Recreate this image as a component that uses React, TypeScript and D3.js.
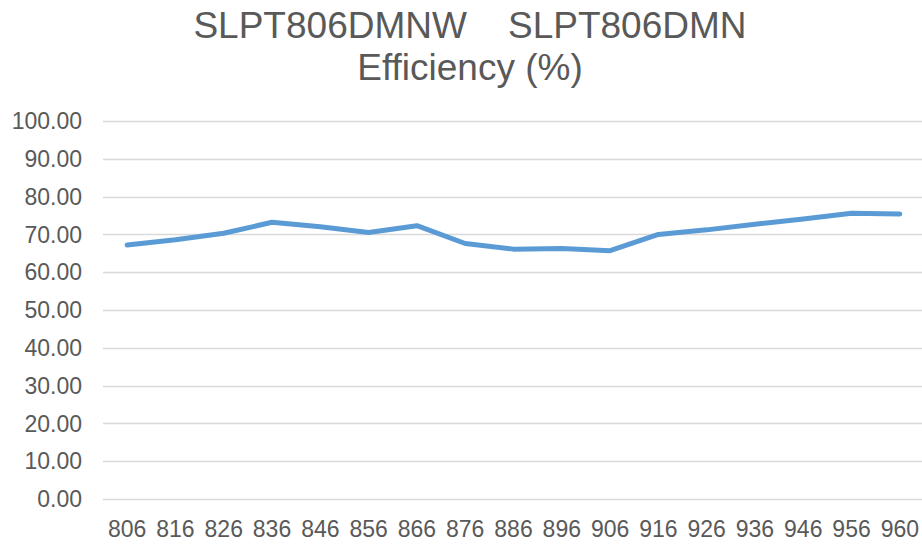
import * as d3 from 'd3';
import { useEffect, useRef } from 'react';

const categories = ['806', '816', '826', '836', '846', '856', '866', '876', '886', '896', '906', '916', '926', '936', '946', '956', '960'];
const efficiency = [67.2, 68.6, 70.3, 73.2, 72.0, 70.5, 72.3, 67.6, 66.1, 66.3, 65.7, 70.0, 71.2, 72.7, 74.1, 75.6, 75.4];
const yTicks = [0, 10, 20, 30, 40, 50, 60, 70, 80, 90, 100];
const titleLines = ['SLPT806DMNW\u00a0\u00a0\u00a0\u00a0SLPT806DMN', 'Efficiency (%)'];

const W = 922;
const H = 544;
const font = 'Arial, "Liberation Sans", sans-serif';
const textColor = '#595959';

const App = () => {
    const svgRef = useRef<SVGSVGElement>(null);

    useEffect(() => {
        const svg = d3.select(svgRef.current);
        svg.selectAll('*').remove();

        const left = 103, right = 924, top = 121, bottom = 499;

        const x = d3.scaleBand().domain(categories).range([left, right]);
        const y = d3.scaleLinear().domain([0, 100]).range([bottom, top]);

        // title
        svg.append('g')
            .selectAll('text')
            .data(titleLines)
            .enter()
            .append('text')
            .attr('x', 470)
            .attr('y', (d, i) => 37.5 + i * 42.5)
            .attr('text-anchor', 'middle')
            .attr('font-family', font)
            .attr('font-size', 37)
            .attr('fill', textColor)
            .text(d => d);

        // grid lines
        svg.append('g')
            .selectAll('line')
            .data(yTicks)
            .enter()
            .append('line')
            .attr('x1', left)
            .attr('x2', W)
            .attr('y1', d => Math.round(y(d)) + 0.5)
            .attr('y2', d => Math.round(y(d)) + 0.5)
            .attr('stroke', '#d9d9d9')
            .attr('stroke-width', 1.3);

        // y labels
        svg.append('g')
            .selectAll('text')
            .data(yTicks)
            .enter()
            .append('text')
            .attr('x', 82)
            .attr('y', d => y(d))
            .attr('dy', '0.36em')
            .attr('text-anchor', 'end')
            .attr('font-family', font)
            .attr('font-size', 23)
            .attr('fill', textColor)
            .text(d => d3.format('.2f')(d));

        // x labels
        svg.append('g')
            .selectAll('text')
            .data(categories)
            .enter()
            .append('text')
            .attr('x', d => x(d)! + x.bandwidth() / 2)
            .attr('y', 536.5)
            .attr('text-anchor', 'middle')
            .attr('font-family', font)
            .attr('font-size', 23)
            .attr('fill', textColor)
            .text(d => d);

        const line = d3.line<number>()
            .x((d, i) => x(categories[i])! + x.bandwidth() / 2)
            .y(d => y(d));

        svg.append('path')
            .datum(efficiency)
            .attr('d', line)
            .attr('fill', 'none')
            .attr('stroke', '#5b9bd5')
            .attr('stroke-width', 5)
            .attr('stroke-linejoin', 'round')
            .attr('stroke-linecap', 'round');

        return () => {
            svg.selectAll('*').remove();
        };
    }, []);

    return (
        <svg ref={svgRef} width={W} height={H} style={{ position: 'absolute', left: 0, top: 0, background: '#fff' }}></svg>
    );
};

export default App;
